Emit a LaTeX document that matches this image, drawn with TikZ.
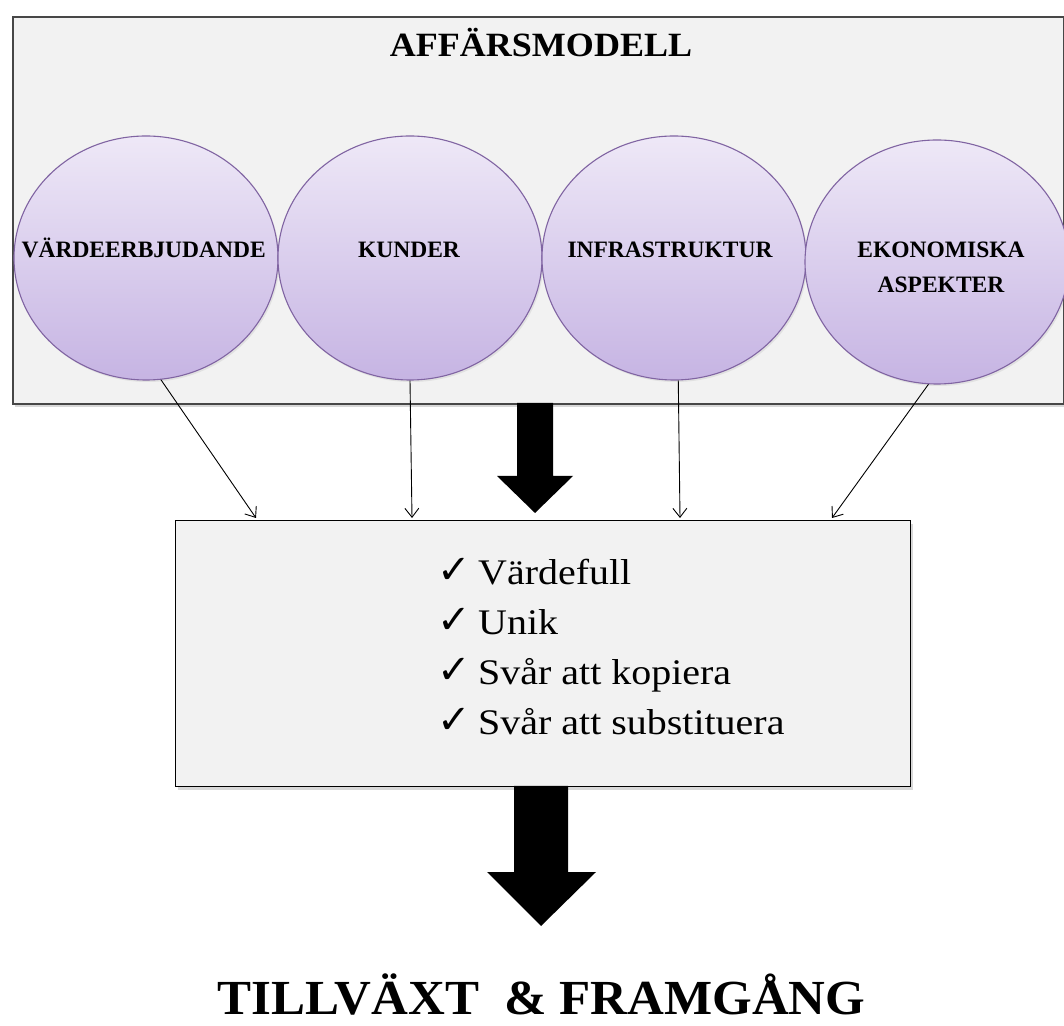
\documentclass[tikz,border=0pt]{standalone}
\usepackage{fontspec}
\setmainfont{Liberation Serif}
\newfontfamily\titlefont[FakeStretch=1.06]{Liberation Serif}
\newfontfamily\listfont[FakeStretch=1.11]{Liberation Serif}
\newfontfamily\endfont[FakeStretch=1.04]{Liberation Serif}
\newfontfamily\checkfont{DejaVu Sans}
\usetikzlibrary{shapes.geometric,arrows.meta,shadows}
\definecolor{boxfill}{HTML}{F2F2F2}
\definecolor{ctop}{HTML}{EEE8F7}
\definecolor{cbot}{HTML}{C6B4E3}
\definecolor{cline}{HTML}{8064A2}
\begin{document}
\begin{tikzpicture}[x=1pt,y=1pt,
  outerbox/.style={draw=black!72, line width=1.6pt, fill=boxfill, inner sep=0pt,
    drop shadow={opacity=0.3, shadow xshift=2pt, shadow yshift=-3pt}},
  midbox/.style={draw=black, line width=1.3pt, fill=boxfill, inner sep=0pt,
    drop shadow={opacity=0.3, shadow xshift=2pt, shadow yshift=-3pt}},
  bubble/.style={ellipse, minimum width=264pt, minimum height=244pt, inner sep=0pt,
    draw=cline, line width=1.1pt, top color=ctop, bottom color=cbot,
    drop shadow={opacity=0.15, shadow xshift=1.5pt, shadow yshift=-2pt}},
  lbl/.style={font=\bfseries\fontsize{23.5}{35}\selectfont, inner sep=0pt},
  thin/.style={line width=0.9pt, -{Straight Barb[length=9pt,width=14pt]}},
  listtxt/.style={font=\listfont\fontsize{36}{40}\selectfont, inner sep=0pt, anchor=base west},
  chk/.style={font=\checkfont\fontsize{40}{44}\selectfont, inner sep=0pt, anchor=base west}
]
\useasboundingbox (0,0) rectangle (1064,1025);
\fill[white] (0,0) rectangle (1064,1025);

% top box
\node[outerbox, anchor=north west, minimum width=1051pt, minimum height=387pt] (top) at (12,1009) {};
\node[font=\titlefont\bfseries\fontsize{34}{40}\selectfont, inner sep=0pt, anchor=base] (title) at (541,968) {AFFÄRSMODELL};

% bubbles
\node[bubble] (c1) at (146,767) {};
\node[bubble] (c2) at (410,767) {};
\node[bubble] (c3) at (674,767) {};
\node[bubble] (c4) at (937,763) {};
\node[lbl, anchor=base] (t1) at (143.7,767) {VÄRDEERBJUDANDE};
\node[lbl, anchor=base] (t2) at (409,767) {KUNDER};
\node[lbl, anchor=base] (t3) at (670,767) {INFRASTRUKTUR};
\node[lbl, align=center] (t4) at (941,757.5) {EKONOMISKA\\ASPEKTER};

% middle box
\node[midbox, anchor=north west, minimum width=735pt, minimum height=266pt] (mid) at (175,505) {};

% thick arrows
\fill[black] (517,622) -- (553,622) -- (553,549) -- (573,549) -- (535,512) -- (497,549) -- (517,549) -- cycle;
\fill[black] (514,239) -- (568,239) -- (568,153) -- (596,153) -- (541,99) -- (487,153) -- (514,153) -- cycle;

% thin arrows
\coordinate (e1) at (256,507);
\coordinate (e2) at (412,507);
\coordinate (e3) at (680,507);
\coordinate (e4) at (832,507);
\draw[thin] (c1.-83.3) -- (e1);
\draw[thin] (c2.-90.5) -- (e2);
\draw[thin] (c3.-88.6) -- (e3);
\draw[thin] (c4.-94.6) -- (e4);

% checklist
\node[chk] (k1) at (437,441) {✓};
\node[chk] (k2) at (437,391) {✓};
\node[chk] (k3) at (437,341) {✓};
\node[chk] (k4) at (437,291) {✓};
\node[listtxt] (l1) at (478,440) {Värdefull};
\node[listtxt] (l2) at (478,390) {Unik};
\node[listtxt] (l3) at (478,340) {Svår att kopiera};
\node[listtxt] (l4) at (478,290) {Svår att substituera};

% bottom text
\node[font=\endfont\bfseries\fontsize{49}{55}\selectfont, inner sep=0pt, anchor=base] (res) at (541.5,11) {TILLVÄXT\ \ \& FRAMGÅNG};
\end{tikzpicture}
\end{document}
